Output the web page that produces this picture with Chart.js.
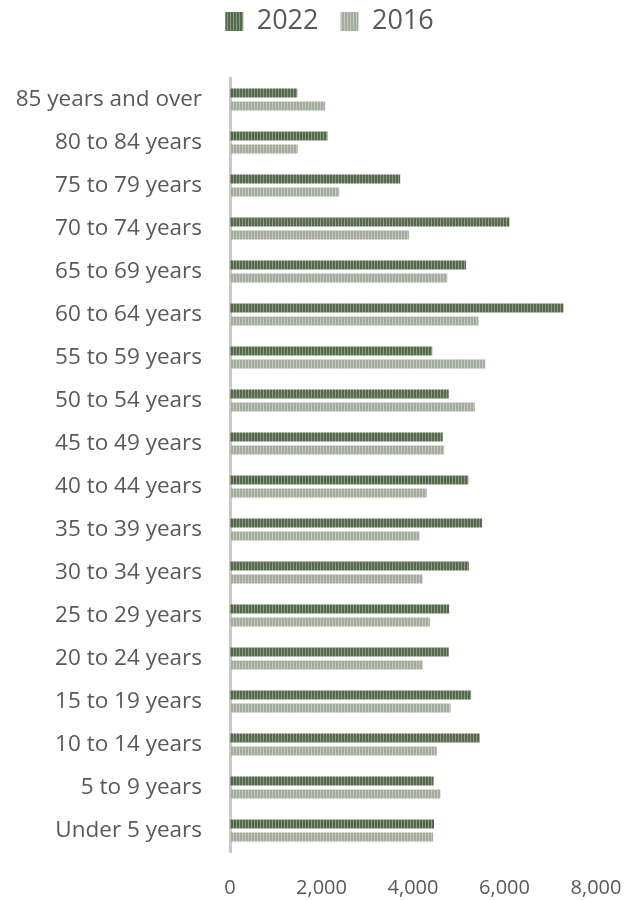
<!DOCTYPE html>
<html>
<head>
<meta charset="utf-8">
<script src="https://cdn.jsdelivr.net/npm/chart.js@4"></script>
<style>
  html, body { margin: 0; padding: 0; background: #fff; }
  #wrap { width: 635px; height: 900px; }
</style>
</head>
<body>
<div id="wrap"><canvas id="ageChart"></canvas></div>
<script>
const ageGroups = [
  "85 years and over", "80 to 84 years", "75 to 79 years", "70 to 74 years",
  "65 to 69 years", "60 to 64 years", "55 to 59 years", "50 to 54 years",
  "45 to 49 years", "40 to 44 years", "35 to 39 years", "30 to 34 years",
  "25 to 29 years", "20 to 24 years", "15 to 19 years", "10 to 14 years",
  "5 to 9 years", "Under 5 years"
];
const pop2022 = [1470, 2130, 3720, 6110, 5160, 7290, 4420, 4780, 4650, 5210, 5510, 5220, 4790, 4780, 5270, 5460, 4450, 4460];
const pop2016 = [2080, 1480, 2390, 3910, 4750, 5430, 5580, 5350, 4680, 4300, 4140, 4210, 4370, 4210, 4820, 4520, 4600, 4440];
const xTicks = [0, 2000, 4000, 6000, 8000];

// vertical stripe fill, like the Excel pattern fill
function stripes(dark, light) {
  const c = document.createElement("canvas");
  c.width = 3; c.height = 1;
  const g = c.getContext("2d");
  g.fillStyle = dark; g.fillRect(0, 0, 2, 1);
  g.fillStyle = light; g.fillRect(2, 0, 1, 1);
  return g.createPattern(c, "repeat");
}

const fill2022 = stripes("#56694c", "#8b9a83");
const fill2016 = stripes("#a4ac9e", "#c3c8be");

const textColor = "#595959";
const fontFamily = "'Open Sans', 'Noto Sans', sans-serif";

// fixed legend height, and legend nudged right of the canvas centre
const legendTweak = {
  id: "legendTweak",
  beforeInit(chart) {
    const fit = chart.legend.fit;
    chart.legend.fit = function () {
      fit.bind(chart.legend)();
      this.height = 92;
    };
  },
  afterLayout(chart) {
    chart.legend.left += 24;
  }
};

new Chart(document.getElementById("ageChart"), {
  type: "bar",
  data: {
    labels: ageGroups,
    datasets: [
      { label: "2022", data: pop2022, backgroundColor: fill2022, borderWidth: 0 },
      { label: "2016", data: pop2016, backgroundColor: fill2016, borderWidth: 0 }
    ]
  },
  options: {
    indexAxis: "y",
    responsive: true,
    maintainAspectRatio: false,
    animation: false,
    categoryPercentage: 0.6,
    barPercentage: 0.7,
    layout: { padding: { left: 0, right: 0, top: -14, bottom: 0 } },
    plugins: {
      legend: {
        position: "top",
        labels: {
          color: textColor,
          font: { family: fontFamily, size: 27 },
          boxWidth: 18,
          boxHeight: 19,
          padding: 22
        }
      },
      tooltip: { enabled: false }
    },
    scales: {
      x: {
        min: 0,
        max: 8000,
        afterBuildTicks(axis) { axis.ticks = xTicks.map(v => ({ value: v })); },
        afterFit(axis) { axis.height = 48; axis.paddingRight = 39; },
        grid: { display: false },
        border: { display: false },
        ticks: {
          color: textColor,
          font: { family: fontFamily, size: 20 },
          padding: 16,
          callback: v => v.toLocaleString("en-US")
        }
      },
      y: {
        afterFit(axis) { axis.width = 230; },
        grid: { display: false },
        border: { display: true, color: "#c8c8c8", width: 3 },
        ticks: {
          color: textColor,
          font: { family: fontFamily, size: 22.5 },
          padding: 20
        }
      }
    }
  },
  plugins: [legendTweak]
});
</script>
</body>
</html>
